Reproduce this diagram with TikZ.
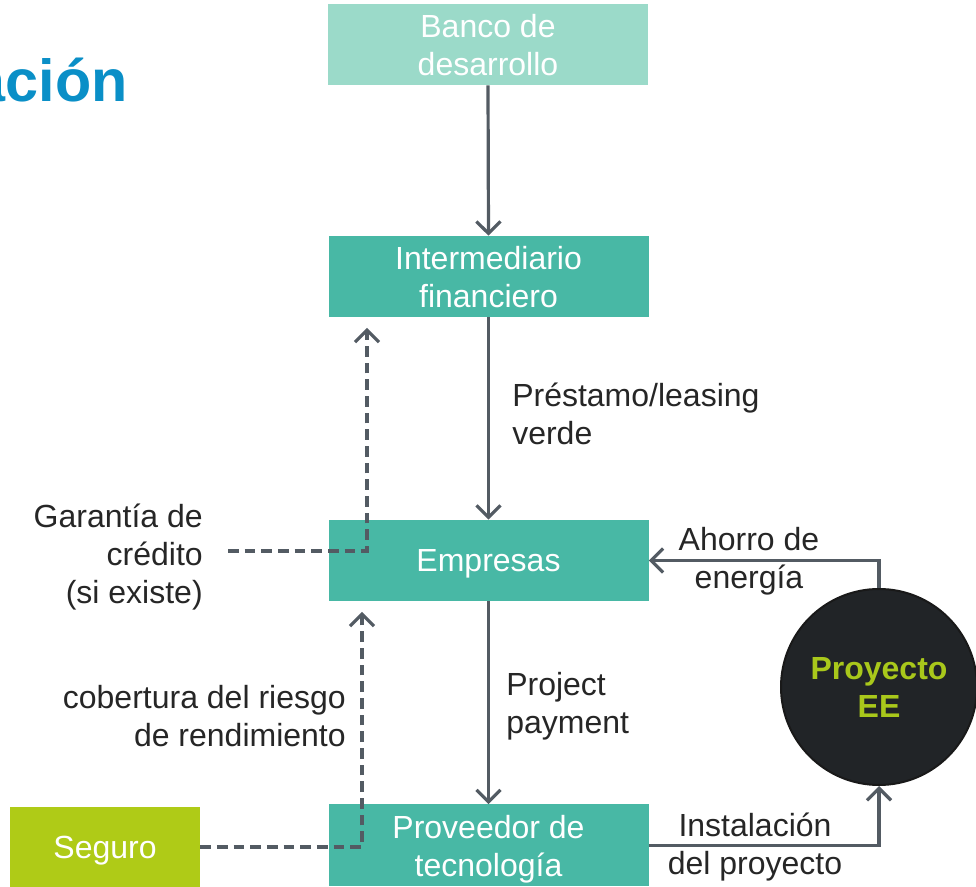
\documentclass[tikz,border=0pt]{standalone}
\usepackage{fontspec}
\setmainfont{Liberation Sans}
\usetikzlibrary{arrows.meta}
\definecolor{tealbox}{HTML}{48B8A5}
\definecolor{lightteal}{HTML}{9BDAC9}
\definecolor{lime}{HTML}{AFCB17}
\definecolor{limetext}{HTML}{A9C81B}
\definecolor{arrowgray}{HTML}{535B63}
\definecolor{titleblue}{HTML}{0A8FC7}
\definecolor{darkcircle}{HTML}{212427}
\begin{document}
\begin{tikzpicture}[x=0.75pt,y=-0.75pt,
  txt/.style={font=\fontsize{24}{28.5}\selectfont},
  box/.style={txt,fill=tealbox,text=white,minimum width=240pt,minimum height=60.75pt,align=center,inner sep=0pt,text depth=0pt},
  conn/.style={draw=arrowgray,line width=2.4pt,-{Straight Barb[length=9pt,width=18pt,line width=2.4pt]}},
  dconn/.style={conn,dash pattern=on 8pt off 4.5pt,shorten >=8pt},
  lbl/.style={txt,text=black!85,inner sep=0pt}]
\useasboundingbox (0,0) rectangle (976,887);
\node[font=\fontsize{44.5}{48}\selectfont\bfseries,text=titleblue,anchor=base east,inner sep=0pt] (title) at (128,102) {ación};
\node[box,fill=lightteal] (banco) at (488,44.5) {Banco de\\desarrollo};
\node[box] (inter) at (488.5,276.5) {Intermediario\\financiero};
\node[box] (emp) at (488.5,560.5) {Empresas};
\node[box,minimum height=61.5pt] (prov) at (488.5,845.5) {Proveedor de\\tecnología};
\node[box,fill=lime,minimum width=142.5pt,minimum height=60pt] (seguro) at (105,847) {Seguro};
\node[circle,fill=darkcircle,draw=black!90,line width=1.5pt,minimum size=147pt,inner sep=0pt,txt,font=\fontsize{24}{28.5}\selectfont\bfseries,text=limetext,align=center] (ee) at (879,687) {Proyecto\\EE};
\node[lbl,anchor=west,align=left] (prest) at (512,414) {Préstamo/leasing\\verde};
\node[lbl,anchor=west,align=left] (pay) at (506,706) {Project\\payment};
\node[lbl,align=center] (ahorro) at (749,561) {Ahorro de\\energía};
\node[lbl,align=center] (inst) at (755,847) {Instalación\\del proyecto};
\node[lbl,anchor=east,align=right] (garantia) at (203,557) {Garantía de\\crédito\\(si existe)};
\node[lbl,anchor=east,align=right] (cober) at (346,716) {cobertura del riesgo\\de rendimiento};
\coordinate (g0) at (228,551);
\coordinate (gx) at (367,0);
\coordinate (sx) at (362,0);
\draw[conn] (banco.south) -- (inter.north);
\draw[conn] (inter.south) -- (emp.north);
\draw[conn] (emp.south) -- (prov.north);
\draw[conn] (ee.north) |- (emp.east);
\draw[conn] (prov.east) -| (ee.south);
\draw[dconn] (g0) -| (gx |- inter.south);
\draw[dconn] (seguro.east) -| (sx |- emp.south);
\end{tikzpicture}
\end{document}
